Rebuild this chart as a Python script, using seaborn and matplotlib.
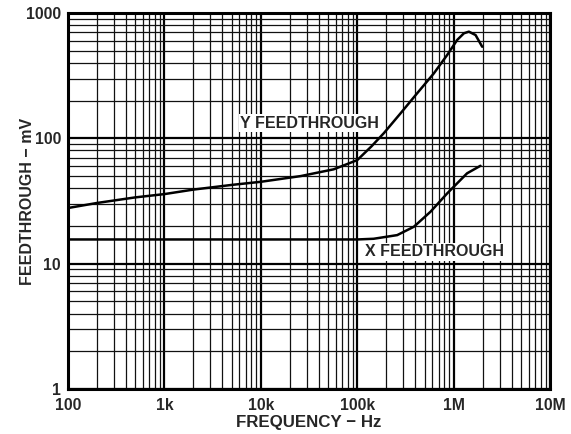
import matplotlib
matplotlib.use("Agg")
import matplotlib.pyplot as plt
from matplotlib.ticker import LogLocator, FixedLocator, FixedFormatter, NullFormatter
import seaborn as sns
import pandas as pd

# ---- data ----
y_freq = [100, 200, 500, 1e3, 2e3, 5e3, 1e4, 2.6e4, 5.7e4, 1e5, 1.4e5, 1.89e5, 2.81e5,
          4.19e5, 6.24e5, 8.57e5, 1.09e6, 1.28e6, 1.44e6, 1.69e6, 1.98e6]
y_feed = [27.8, 30.5, 33.8, 35.9, 39.0, 42.5, 45.0, 50.0, 56.6, 67.0, 86.0, 110, 158,
          229, 330, 462, 610, 689, 710, 667, 538]

x_freq = [100, 1e3, 1e4, 1e5, 1.48e5, 2.6e5, 3.87e5, 5.77e5, 8.59e5, 1.09e6, 1.38e6, 1.9e6]
x_feed = [15.6, 15.6, 15.6, 15.6, 15.8, 16.9, 19.7, 26.0, 36.4, 43.8, 52.6, 60.4]

x_ticks = [1e2, 1e3, 1e4, 1e5, 1e6, 1e7]
x_tick_labels = ["100", "1k", "10k", "100k", "1M", "10M"]
y_ticks = [1, 10, 100, 1000]
y_tick_labels = ["1", "10", "100", "1000"]

sns.set_style("white")
plt.rcParams["font.family"] = ["Liberation Sans", "DejaVu Sans"]
plt.rcParams["font.weight"] = "bold"

fig = plt.figure(figsize=(5.71, 4.34), dpi=100)
ax = fig.add_axes([68 / 571, 1 - 389 / 434, (550 - 68) / 571, (389 - 13) / 434])

df_y = pd.DataFrame({"f": y_freq, "v": y_feed})
df_x = pd.DataFrame({"f": x_freq, "v": x_feed})
sns.lineplot(data=df_y, x="f", y="v", ax=ax, color="black", linewidth=1.8, zorder=4, sort=False)
sns.lineplot(data=df_x, x="f", y="v", ax=ax, color="black", linewidth=1.8, zorder=4, sort=False)

ax.set_xscale("log")
ax.set_yscale("log")
ax.set_xlim(1e2, 1e7)
ax.set_ylim(1, 1000)

ax.xaxis.set_major_locator(FixedLocator(x_ticks))
ax.xaxis.set_major_formatter(FixedFormatter(x_tick_labels))
ax.yaxis.set_major_locator(FixedLocator(y_ticks))
ax.yaxis.set_major_formatter(FixedFormatter(y_tick_labels))
ax.xaxis.set_minor_locator(LogLocator(base=10, subs=range(2, 10), numticks=20))
ax.yaxis.set_minor_locator(LogLocator(base=10, subs=range(2, 10), numticks=20))
ax.xaxis.set_minor_formatter(NullFormatter())
ax.yaxis.set_minor_formatter(NullFormatter())

ax.grid(which="major", color="black", linewidth=1.6, zorder=1)
ax.grid(which="minor", color="#111111", linewidth=0.9, zorder=1)
ax.set_axisbelow(True)
ax.tick_params(which="both", length=0)
ax.tick_params(axis="x", pad=6.5, labelsize=11.3)
ax.tick_params(axis="y", pad=5, labelsize=11.3)
for lab in ax.get_xticklabels() + ax.get_yticklabels():
    lab.set_fontweight("bold")

for s in ax.spines.values():
    s.set_visible(True)
    s.set_color("black")
    s.set_linewidth(2.2)

ax.set_xlabel("FREQUENCY − Hz", fontsize=12.2, fontweight="bold", va="center")
ax.xaxis.set_label_coords(0.5, (389 - 422) / 376)
ax.set_ylabel("FEEDTHROUGH − mV", fontsize=11.5, fontweight="bold", va="center")
ax.yaxis.set_label_coords((28 - 68) / 482, 0.5)

box = dict(facecolor="white", edgecolor="none", pad=1.0)
ax.text(3.2e4, 132, "Y FEEDTHROUGH", ha="center", va="center", fontsize=11.5,
        fontweight="bold", bbox=box, zorder=5)
ax.text(6.27e5, 12.4, "X FEEDTHROUGH", ha="center", va="center", fontsize=11.5,
        fontweight="bold", bbox=box, zorder=5)

fig.savefig("out.png", dpi=100)
